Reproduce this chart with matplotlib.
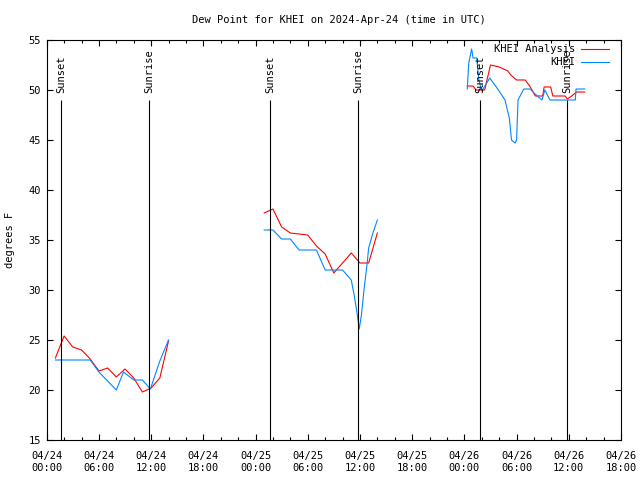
import matplotlib
matplotlib.use("Agg")
import matplotlib.pyplot as plt
import matplotlib.dates as mdates
import pandas as pd

# KHEI Analysis (red), one list per day of data
ana_times = [
    ["04-24 01:00", "04-24 02:00", "04-24 03:00", "04-24 04:00", "04-24 05:00",
     "04-24 06:00", "04-24 07:00", "04-24 08:00", "04-24 09:00", "04-24 10:00",
     "04-24 11:00", "04-24 12:00", "04-24 13:00", "04-24 14:00"],
    ["04-25 01:00", "04-25 02:00", "04-25 03:00", "04-25 04:00", "04-25 05:00",
     "04-25 06:00", "04-25 07:00", "04-25 08:00", "04-25 09:00", "04-25 10:00",
     "04-25 11:00", "04-25 12:00", "04-25 13:00", "04-25 14:00"],
    ["04-26 00:20", "04-26 01:00", "04-26 01:20", "04-26 02:00", "04-26 02:20",
     "04-26 03:00", "04-26 04:00", "04-26 05:00", "04-26 05:20", "04-26 06:00",
     "04-26 07:00", "04-26 07:30", "04-26 08:10", "04-26 09:00", "04-26 09:10",
     "04-26 09:55", "04-26 10:10", "04-26 11:35", "04-26 11:50", "04-26 12:20",
     "04-26 12:55", "04-26 13:50"],
]
ana_vals = [
    [23.2, 25.4, 24.3, 24.0, 23.1, 21.9, 22.2, 21.3, 22.1, 21.2, 19.8, 20.2, 21.2, 24.9],
    [37.7, 38.1, 36.3, 35.7, 35.6, 35.5, 34.4, 33.6, 31.7, 32.7, 33.7, 32.7, 32.7, 35.7],
    [50.4, 50.4, 50.0, 50.0, 50.0, 52.5, 52.3, 51.9, 51.5, 51.0, 51.0, 50.4, 49.4,
     49.4, 50.3, 50.3, 49.4, 49.4, 49.1, 49.4, 49.8, 49.8],
]

# KHEI observations (blue)
obs_times = [
    ["04-24 01:00", "04-24 05:00", "04-24 06:00", "04-24 08:00", "04-24 08:50",
     "04-24 10:00", "04-24 11:00", "04-24 11:55", "04-24 13:00", "04-24 14:00"],
    ["04-25 01:00", "04-25 02:00", "04-25 03:00", "04-25 04:00", "04-25 05:00",
     "04-25 07:00", "04-25 08:00", "04-25 10:00", "04-25 11:00", "04-25 11:20",
     "04-25 11:40", "04-25 11:55", "04-25 12:10", "04-25 12:30", "04-25 12:50",
     "04-25 13:00", "04-25 13:25", "04-25 14:00"],
    ["04-26 00:20", "04-26 00:30", "04-26 00:50", "04-26 01:00", "04-26 01:25",
     "04-26 01:40", "04-26 02:00", "04-26 02:55", "04-26 03:55", "04-26 04:40",
     "04-26 05:10", "04-26 05:25", "04-26 05:50", "04-26 06:00", "04-26 06:10",
     "04-26 06:50", "04-26 07:35", "04-26 08:00", "04-26 08:55", "04-26 09:15",
     "04-26 09:50", "04-26 12:45", "04-26 12:50", "04-26 13:50"],
]
obs_vals = [
    [23.0, 23.0, 21.8, 20.0, 21.8, 21.0, 21.0, 20.1, 22.9, 25.0],
    [36.0, 36.0, 35.1, 35.1, 34.0, 34.0, 32.0, 32.0, 31.0, 29.5, 27.7, 26.1, 27.5,
     30.3, 32.7, 34.2, 35.5, 37.0],
    [50.1, 52.7, 54.1, 53.2, 53.2, 51.0, 49.9, 51.2, 50.0, 49.0, 47.2, 45.0, 44.7,
     45.0, 49.0, 50.1, 50.1, 49.7, 49.0, 50.0, 49.0, 49.0, 50.1, 50.1],
]

sunset_times = ["04-24 01:41", "04-25 01:42", "04-26 01:50"]
sunrise_times = ["04-24 11:47", "04-25 11:48", "04-26 11:49"]

YEAR = "2024-"


def to_dt(lst):
    return pd.to_datetime([YEAR + s for s in lst])


mono = "DejaVu Sans Mono"
fs = 7.5

fig = plt.figure(figsize=(6.4, 4.8), dpi=100)
ax = fig.add_axes([46.7 / 640, 40 / 480, 574.3 / 640, 400 / 480])

for t, v in zip(ana_times, ana_vals):
    ax.plot(to_dt(t), v, color="#ff0000", lw=0.8)
for t, v in zip(obs_times, obs_vals):
    ax.plot(to_dt(t), v, color="#0088ff", lw=0.8)

# sunset / sunrise markers
for lbl, times in (("Sunset", sunset_times), ("Sunrise", sunrise_times)):
    for t in to_dt(times):
        ax.vlines(t, 15, 49, color="black", lw=0.8)
        ax.text(t, 49.7, lbl, rotation=90, ha="center", va="bottom",
                family=mono, fontsize=fs)

ax.set_xlim(pd.Timestamp("2024-04-24 00:00"), pd.Timestamp("2024-04-26 18:00"))
ax.set_ylim(15, 55)
ax.set_yticks(range(15, 56, 5))
ax.xaxis.set_major_locator(mdates.HourLocator(byhour=[0, 6, 12, 18]))
ax.xaxis.set_minor_locator(mdates.HourLocator(byhour=range(0, 24, 2)))
ax.xaxis.set_major_formatter(mdates.DateFormatter("%m/%d\n%H:%M"))

ax.tick_params(which="both", direction="in", top=True, right=True, width=0.8,
               labelsize=fs)
ax.tick_params(which="major", length=4)
ax.tick_params(which="minor", length=2.5)
ax.tick_params(axis="x", pad=8)
ax.tick_params(axis="y", pad=4)
for lab in ax.get_xticklabels() + ax.get_yticklabels():
    lab.set_family(mono)
for sp in ax.spines.values():
    sp.set_linewidth(0.8)

# legend, gnuplot style (text right-aligned, sample on the right)
ax.text(0.920, 0.977, "KHEI Analysis", transform=ax.transAxes, ha="right",
        va="center", family=mono, fontsize=fs)
ax.text(0.920, 0.944, "KHEI", transform=ax.transAxes, ha="right",
        va="center", family=mono, fontsize=fs)
ax.plot([0.930, 0.979], [0.977, 0.977], color="#ff0000", lw=0.8,
        transform=ax.transAxes, clip_on=False)
ax.plot([0.930, 0.979], [0.944, 0.944], color="#0088ff", lw=0.8,
        transform=ax.transAxes, clip_on=False)

fig.text(0.53, 1 - 20 / 480, "Dew Point for KHEI on 2024-Apr-24 (time in UTC)",
         ha="center", va="center", family=mono, fontsize=fs)
fig.text(10 / 640, 0.5, "degrees F", rotation=90, ha="center", va="center",
         family=mono, fontsize=fs)

fig.savefig("out.png", dpi=100)
